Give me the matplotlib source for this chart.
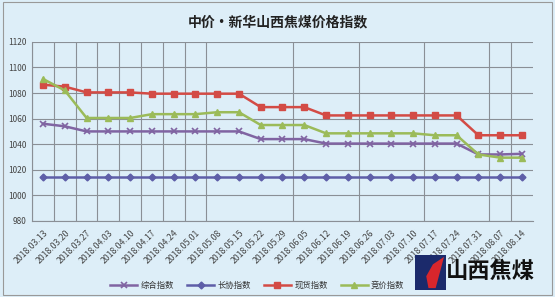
import matplotlib.pyplot as plt
from matplotlib.patches import Rectangle, Polygon
import numpy as np

plt.rcParams['font.family'] = ['Noto Sans CJK SC', 'DejaVu Sans']

# weekly dates
dates = ['2018.03.13', '2018.03.20', '2018.03.27', '2018.04.03', '2018.04.10',
         '2018.04.17', '2018.04.24', '2018.05.01', '2018.05.08', '2018.05.15',
         '2018.05.22', '2018.05.29', '2018.06.05', '2018.06.12', '2018.06.19',
         '2018.06.26', '2018.07.03', '2018.07.10', '2018.07.17', '2018.07.24',
         '2018.07.31', '2018.08.07', '2018.08.14']

# index values
zonghe = [1056, 1054, 1050, 1050, 1050, 1050, 1050, 1050, 1050, 1050,
          1044, 1044, 1044, 1040.5, 1040.5, 1040.5, 1040.5, 1040.5, 1040.5, 1040.5,
          1032, 1032, 1032.5]
changxie = [1014.7] * 23
xianhuo = [1086.5, 1085, 1080.5, 1080.5, 1080.5, 1079.5, 1079.5, 1079.5, 1079.5, 1079.5,
           1069, 1069, 1069, 1062.5, 1062.5, 1062.5, 1062.5, 1062.5, 1062.5, 1062.5,
           1047, 1047, 1047]
jingjia = [1091, 1082, 1060.5, 1060.5, 1060.5, 1063.5, 1063.5, 1063.5, 1065, 1065,
           1055, 1055, 1055, 1048.5, 1048.5, 1048.5, 1048.5, 1048.5, 1047, 1047,
           1032, 1029.5, 1029.5]

# category boundaries where excel drew vertical grid lines
vgrid = [0, 1, 2, 3, 4, 5, 6, 7, 8, 12, 15, 18, 21, 22]

bg = '#ddeef8'
fig = plt.figure(figsize=(5.55, 2.97), dpi=100, facecolor=bg)
ax = fig.add_axes([0.058, 0.256, 0.902, 0.603])
ax.set_facecolor(bg)

x = np.arange(len(dates))
ax.plot(x, zonghe, color='#8064a2', lw=1.8, marker='x', ms=4.5, mew=1.2, label='综合指数', zorder=4)
ax.plot(x, changxie, color='#5e5ea8', lw=1.8, marker='D', ms=3.5, label='长协指数', zorder=4)
ax.plot(x, xianhuo, color='#d34b45', lw=1.8, marker='s', ms=4.5, label='现货指数', zorder=4)
ax.plot(x, jingjia, color='#9bbb59', lw=1.8, marker='^', ms=5, label='竞价指数', zorder=4)

ax.set_ylim(980, 1120)
ax.set_yticks(np.arange(980, 1121, 20))
ax.set_xlim(-0.5, len(dates) - 0.5)
ax.set_xticks(x)
ax.set_xticklabels(dates, rotation=45, ha='right', rotation_mode='anchor', fontsize=6.3, color='#444444')
ax.tick_params(axis='y', labelsize=6, colors='#444444', length=0, pad=4)
ax.tick_params(axis='x', length=0, pad=5)
ax.grid(axis='y', color='#8a8f96', lw=0.8)
for b in vgrid:
    ax.axvline(b - 0.5, color='#8a8f96', lw=0.8, zorder=1)
for s in ['top', 'right']:
    ax.spines[s].set_visible(False)
for s in ['left', 'bottom']:
    ax.spines[s].set_color('#8a8f96')
    ax.spines[s].set_linewidth(0.8)

fig.text(0.5, 0.925, '中价•新华山西焦煤价格指数', ha='center', va='center',
         fontsize=10, fontweight='bold', color='#222222')

ax.legend(loc='center', bbox_to_anchor=(0.45, -0.36), ncol=4, frameon=False,
          fontsize=6, handlelength=3.2, handletextpad=0.4, columnspacing=1.6,
          labelcolor='#333333')

# logo in the bottom right corner
fig.patches.append(Rectangle((0.748, 0.025), 0.055, 0.115, transform=fig.transFigure,
                             facecolor='#1b2a6b', edgecolor='none'))
fig.patches.append(Polygon([(0.772, 0.03), (0.785, 0.03), (0.8, 0.135), (0.78, 0.11), (0.768, 0.07)],
                           closed=True, transform=fig.transFigure, facecolor='#d8262c', edgecolor='none'))
fig.text(0.884, 0.085, '山西焦煤', ha='center', va='center', fontsize=16, fontweight='heavy', color='#111111')

# outer border
fig.patches.append(Rectangle((0.005, 0.006), 0.99, 0.988, transform=fig.transFigure,
                             facecolor='none', edgecolor='#999999', lw=0.8))

fig.savefig('out.png', dpi=100, facecolor=bg)
